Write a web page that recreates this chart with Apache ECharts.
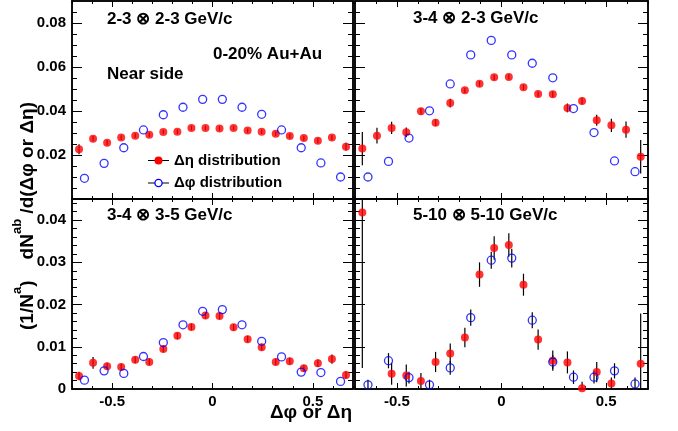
<!DOCTYPE html>
<html><head><meta charset="utf-8">
<script src="https://cdn.jsdelivr.net/npm/echarts@6/dist/echarts.min.js"></script>
<style>html,body{margin:0;padding:0;background:#fff}#c{width:678px;height:431px}</style>
</head><body><div id="c"></div>
<script>
// Bin centres
const etaX = [-0.665,-0.595,-0.525,-0.455,-0.385,-0.315,-0.245,-0.175,-0.105,-0.035,0.035,0.105,0.175,0.245,0.315,0.385,0.455,0.525,0.595,0.665];
const phiX = [-0.638,-0.540,-0.442,-0.344,-0.245,-0.147,-0.049,0.049,0.147,0.245,0.344,0.442,0.540,0.638];

// Panel 1: 2-3 x 2-3 GeV/c
const p1EtaY   = [0.0226,0.0274,0.0256,0.0279,0.0288,0.0292,0.0305,0.0306,0.0323,0.0323,0.0321,0.0323,0.0311,0.0306,0.0297,0.0286,0.0277,0.0265,0.0279,0.0238];
const p1EtaErr = [0.0023,0.0012,0.0012,0.0011,0.0011,0.0010,0.0010,0.0010,0.0010,0.0010,0.0010,0.0010,0.0010,0.0010,0.0010,0.0011,0.0011,0.0012,0.0012,0.0018];
const p1PhiY   = [0.0094,0.0162,0.0233,0.0314,0.0383,0.0417,0.0453,0.0453,0.0417,0.0385,0.0314,0.0233,0.0164,0.0100];
const p1PhiErr = [0,0,0,0,0,0,0,0,0,0,0,0,0,0];

// Panel 2: 3-4 x 2-3 GeV/c
const p2EtaY   = [0.0229,0.0288,0.0323,0.0303,0.0399,0.0347,0.0436,0.0494,0.0524,0.0553,0.0555,0.0508,0.0477,0.0476,0.0414,0.0445,0.0358,0.0335,0.0315,0.0192];
const p2EtaErr = [0.0076,0.0036,0.0028,0.0022,0.0015,0.0015,0.0020,0.0012,0.0012,0.0012,0.0012,0.0012,0.0012,0.0014,0.0020,0.0016,0.0025,0.0030,0.0037,0.0076];
const p2PhiY   = [0.0100,0.0171,0.0277,0.0401,0.0523,0.0655,0.0721,0.0655,0.0617,0.0551,0.0411,0.0302,0.0173,0.0124];
const p2PhiErr = [0,0,0,0,0,0,0,0,0,0,0,0,0,0];

// Panel 3: 3-4 x 3-5 GeV/c
const p3EtaY   = [0.0031,0.0062,0.0054,0.0052,0.0069,0.0064,0.0095,0.0126,0.0147,0.0174,0.0173,0.0146,0.0118,0.0099,0.0064,0.0066,0.0049,0.0061,0.0071,0.0033];
const p3EtaErr = [0.0010,0.0014,0.0008,0.0008,0.0008,0.0008,0.0008,0.0008,0.0008,0.0008,0.0008,0.0008,0.0008,0.0008,0.0008,0.0008,0.0008,0.0009,0.0011,0.0009];
const p3PhiY   = [0.0021,0.0043,0.0037,0.0077,0.0110,0.0152,0.0184,0.0188,0.0152,0.0113,0.0076,0.0040,0.0039,0.0018];
const p3PhiErr = [0,0,0,0,0,0,0,0,0,0,0,0,0,0];

// Panel 4: 5-10 x 5-10 GeV/c
const p4EtaY   = [0.0418,null,0.0036,0.0032,0.0019,0.0064,0.0084,0.0122,0.0271,0.0334,0.0341,0.0247,0.0117,0.0067,0.0063,0.0002,0.0040,0.0013,null,0.0060];
const p4EtaErr = [0.0368,0,0.0026,0.0026,0.0019,0.0024,0.0024,0.0023,0.0029,0.0028,0.0028,0.0026,0.0024,0.0024,0.0026,0.0015,0.0024,0.0014,0,0.0119];
const p4PhiY   = [0.0010,0.0067,0.0027,0.0010,0.0050,0.0169,0.0305,0.0310,0.0163,0.0064,0.0028,0.0028,0.0043,0.0012];
const p4PhiErr = [0.0012,0.0018,0.0014,0.0012,0.0016,0.0019,0.0020,0.0022,0.0019,0.0016,0.0016,0.0015,0.0018,0.0015];

// Ticks
const xMajorTicks = [-0.5, 0, 0.5];
const xMinorTicks = [-0.7,-0.6,-0.5,-0.4,-0.3,-0.2,-0.1,0,0.1,0.2,0.3,0.4,0.5,0.6,0.7];
const yTopMajor = [0,0.02,0.04,0.06,0.08];
const yTopLabels = [0.02,0.04,0.06,0.08];
const yTopMinor = [0,0.005,0.01,0.015,0.02,0.025,0.03,0.035,0.04,0.045,0.05,0.055,0.06,0.065,0.07,0.075,0.08,0.085];
const yBotMajor = [0,0.01,0.02,0.03,0.04];
const yBotLabels = [0,0.01,0.02,0.03,0.04];
const yBotMinor = [0,0.002,0.004,0.006,0.008,0.01,0.012,0.014,0.016,0.018,0.02,0.022,0.024,0.026,0.028,0.03,0.032,0.034,0.036,0.038,0.04,0.042,0.044];

const panelTitles = ['2-3 \u2297 2-3 GeV/c','3-4 \u2297 2-3 GeV/c','3-4 \u2297 3-5 GeV/c','5-10 \u2297 5-10 GeV/c'];
const legendLabels = ['\u0394\u03b7 distribution','\u0394\u03c6 distribution'];

const FONT = '"Liberation Sans", Arial, Helvetica, sans-serif';

const panels = [
  {rect:{left:72, top:1, width:281, height:198}, ymax:0.09, yMaj:yTopMajor, yLab:yTopLabels, yMin:yTopMinor, xLabels:false, yLabels:true,
   eY:p1EtaY, eE:p1EtaErr, pY:p1PhiY, pE:p1PhiErr},
  {rect:{left:355, top:1, width:293, height:198}, ymax:0.09, yMaj:yTopMajor, yLab:yTopLabels, yMin:yTopMinor, xLabels:false, yLabels:false,
   eY:p2EtaY, eE:p2EtaErr, pY:p2PhiY, pE:p2PhiErr},
  {rect:{left:72, top:199, width:281, height:190}, ymax:0.045, yMaj:yBotMajor, yLab:yBotLabels, yMin:yBotMinor, xLabels:true, yLabels:true,
   eY:p3EtaY, eE:p3EtaErr, pY:p3PhiY, pE:p3PhiErr},
  {rect:{left:355, top:199, width:293, height:190}, ymax:0.045, yMaj:yBotMajor, yLab:yBotLabels, yMin:yBotMinor, xLabels:true, yLabels:false,
   eY:p4EtaY, eE:p4EtaErr, pY:p4PhiY, pE:p4PhiErr}
];

const line = {show:true, onZero:false, lineStyle:{color:'#000', width:1.5}};
function xAx(g, pos, ticks, len, labels){
  return {type:'value', gridIndex:g, position:pos, min:-0.7, max:0.7,
    axisLine:line, splitLine:{show:false},
    axisTick:{show:true, inside:true, length:len, customValues:ticks, lineStyle:{color:'#000', width:1}},
    axisLabel:{show:!!labels, customValues:xMajorTicks, color:'#000', fontFamily:FONT, fontWeight:'bold', fontSize:15, margin:5,
      formatter:v=>Math.abs(v)<1e-9?'0':String(v)}};
}
function yAx(g, pos, max, ticks, len, labels, labVals){
  return {type:'value', gridIndex:g, position:pos, min:0, max:max,
    axisLine:line, splitLine:{show:false},
    axisTick:{show:true, inside:true, length:len, customValues:ticks, lineStyle:{color:'#000', width:1}},
    axisLabel:{show:!!labels, customValues:labVals, color:'#000', fontFamily:FONT, fontWeight:'bold', fontSize:15, margin:6,
      formatter:v=>Math.abs(v)<1e-9?'0':String(+v.toFixed(3))}};
}

const grid=[], xAxis=[], yAxis=[], series=[];
panels.forEach((p,g)=>{
  grid.push(Object.assign({containLabel:false}, p.rect));
  xAxis.push(xAx(g,'bottom',xMajorTicks,6,p.xLabels));
  xAxis.push(xAx(g,'bottom',xMinorTicks,3,false));
  xAxis.push(xAx(g,'top',xMajorTicks,6,false));
  xAxis.push(xAx(g,'top',xMinorTicks,3,false));
  yAxis.push(yAx(g,'left',p.ymax,p.yMaj,10,p.yLabels,p.yLab));
  yAxis.push(yAx(g,'left',p.ymax,p.yMin,5,false,p.yLab));
  yAxis.push(yAx(g,'right',p.ymax,p.yMaj,10,false,p.yLab));
  yAxis.push(yAx(g,'right',p.ymax,p.yMin,5,false,p.yLab));
  const xi=4*g, yi=4*g;
  const errData=(xs,ys,es)=>xs.map((x,i)=>[x,ys[i],es[i]]).filter(d=>d[1]!=null && d[2]>0);
  const ptData=(xs,ys)=>xs.map((x,i)=>[x,ys[i]]).filter(d=>d[1]!=null);
  const errSeries=(data)=>({type:'custom', xAxisIndex:xi, yAxisIndex:yi, clip:true, silent:true, data:data,
    encode:{x:0,y:1},
    renderItem:(params,api)=>{
      const x=api.value(0), y=api.value(1), e=api.value(2);
      const a=api.coord([x,y-e]), b=api.coord([x,y+e]);
      return {type:'line', shape:{x1:a[0],y1:a[1],x2:b[0],y2:b[1]}, style:{stroke:'#000', lineWidth:1.2}};
    }});
  series.push(errSeries(errData(etaX,p.eY,p.eE)));
  series.push({type:'scatter', xAxisIndex:xi, yAxisIndex:yi, data:ptData(etaX,p.eY), symbol:'circle', symbolSize:8,
    itemStyle:{color:'#ff0000'}, clip:true, silent:true});
  series.push(errSeries(errData(phiX,p.pY,p.pE)));
  series.push({type:'scatter', xAxisIndex:xi, yAxisIndex:yi, data:ptData(phiX,p.pY), symbol:'circle', symbolSize:8,
    itemStyle:{color:'rgba(0,0,0,0)', borderColor:'#0000ff', borderWidth:1.3}, clip:true, silent:true});
});

const tStyle=(txt,size)=>({text:txt, fill:'#000', font:'bold '+size+'px '+FONT, verticalAlign:'middle'});
const graphic=[
  {type:'text', x:107, y:19, style:tStyle(panelTitles[0],17)},
  {type:'text', x:413, y:18, style:tStyle(panelTitles[1],17)},
  {type:'text', x:107, y:215, style:tStyle(panelTitles[2],17)},
  {type:'text', x:413, y:215, style:tStyle(panelTitles[3],17)},
  {type:'text', x:213, y:54, style:tStyle('0-20% Au+Au',17)},
  {type:'text', x:107, y:74, style:tStyle('Near side',17)},
  // legend
  {type:'line', shape:{x1:148,y1:160.5,x2:169,y2:160.5}, style:{stroke:'#000', lineWidth:1}},
  {type:'circle', shape:{cx:158.5,cy:160.5,r:4}, style:{fill:'#ff0000'}},
  {type:'text', x:174, y:160.5, style:tStyle(legendLabels[0],15)},
  {type:'line', shape:{x1:148,y1:183,x2:169,y2:183}, style:{stroke:'#000', lineWidth:1}},
  {type:'circle', shape:{cx:158.5,cy:183,r:3.6}, style:{fill:'#fff', stroke:'#0000ff', lineWidth:1.3}},
  {type:'text', x:174, y:183, style:tStyle(legendLabels[1],15)},
  // axis titles
  {type:'text', x:352, y:413, style:{text:'\u0394\u03c6 or \u0394\u03b7', fill:'#000', font:'bold 19px '+FONT, align:'right', verticalAlign:'middle'}},
  {type:'text', x:24, y:216, rotation:Math.PI/2,
    style:{text:'{n|(1/N}{s|a}{n|)    dN}{s|ab}{n| /d(\u0394\u03c6 or \u0394\u03b7)}', align:'center', verticalAlign:'middle',
      rich:{n:{fill:'#000', fontFamily:FONT, fontWeight:'bold', fontSize:19, lineHeight:26, verticalAlign:'bottom'},
            s:{fill:'#000', fontFamily:FONT, fontWeight:'bold', fontSize:13, lineHeight:26, verticalAlign:'top'}}}}
];

const chart = echarts.init(document.getElementById('c'), null, {renderer:'canvas'});
chart.setOption({animation:false, backgroundColor:'#fff', grid, xAxis, yAxis, series, graphic});
</script>
</body></html>
